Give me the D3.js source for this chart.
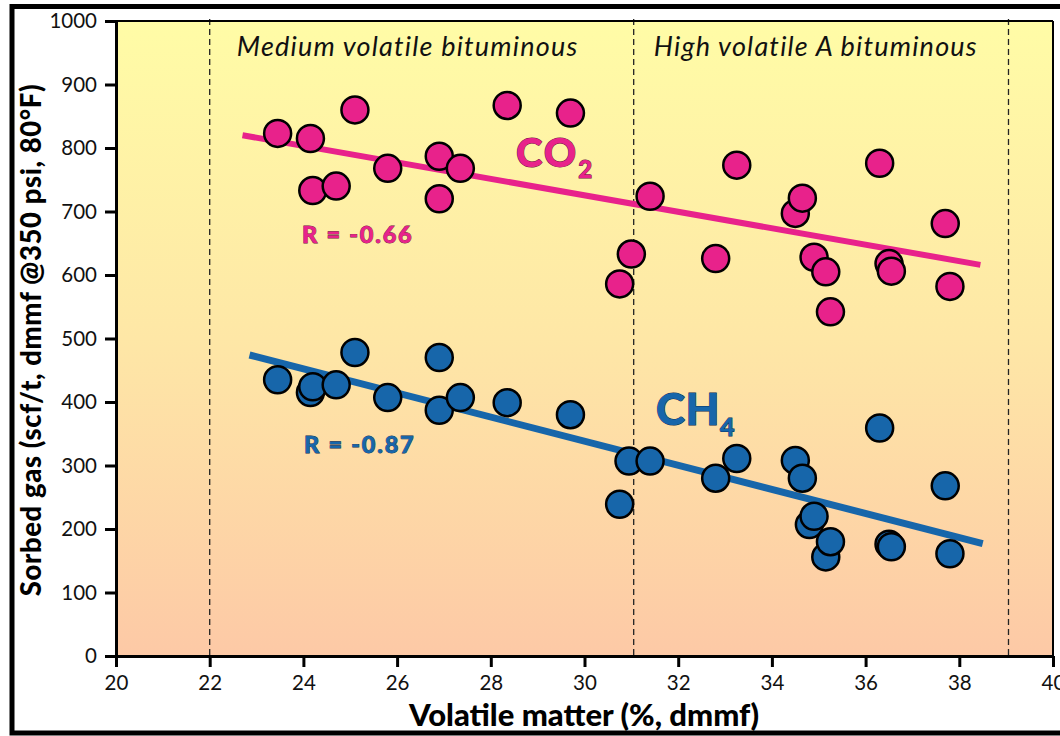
<!DOCTYPE html>
<html>
<head>
<meta charset="utf-8">
<script src="https://cdn.jsdelivr.net/npm/d3@7"></script>
<style>
  html, body { margin: 0; padding: 0; background: #fff; }
  svg { display: block; }
  text { font-family: Lato, "Open Sans", "DejaVu Sans", sans-serif; }
</style>
</head>
<body>
<svg id="chart" width="1060" height="736"></svg>
<script>
// ---------- data ----------
const xTicks = [20, 22, 24, 26, 28, 30, 32, 34, 36, 38, 40];
const yTicks = [0, 100, 200, 300, 400, 500, 600, 700, 800, 900, 1000];

const co2X = [23.45, 24.15, 24.2, 24.7, 25.1, 25.8, 26.9, 26.9, 27.35, 28.35, 29.7, 30.75, 31.0, 31.4, 32.8, 33.25, 34.5, 34.65, 34.9, 35.15, 35.25, 36.3, 36.5, 36.55, 37.7, 37.8];
const co2Y = [823, 815, 733, 740, 860, 768, 787, 720, 768, 867, 855, 586, 633, 724, 626, 773, 697, 721, 628, 605, 542, 776, 618, 606, 681, 582];

const ch4X = [23.45, 24.15, 24.2, 24.7, 25.1, 25.8, 26.9, 26.9, 27.35, 28.35, 29.7, 30.75, 30.95, 31.4, 32.8, 33.25, 34.5, 34.65, 34.8, 34.9, 35.15, 35.25, 36.3, 36.5, 36.55, 37.7, 37.8];
const ch4Y = [435, 415, 424, 427, 478, 407, 470, 387, 407, 399, 380, 239, 307, 307, 280, 311, 308, 280, 207, 220, 156, 180, 359, 176, 172, 268, 161];

const co2TrendX = [22.7, 38.45];
const co2TrendY = [820, 616];
const ch4TrendX = [22.85, 38.5];
const ch4TrendY = [474, 177];

const rankBoundaries = [22, 31.05, 39.05];
const rankLabels = ["Medium volatile bituminous", "High volatile A bituminous"];
const rankLabelX = [22.58, 31.48];

const co2R = "R = -0.66";
const ch4R = "R = -0.87";
const xTitle = "Volatile matter (%, dmmf)";
const yTitle = "Sorbed gas (scf/t, dmmf @350 psi, 80°F)";

// ---------- layout ----------
const svg = d3.select("#chart");
const L = 116, R = 1053, T = 21, B = 656;
const x = d3.scaleLinear().domain([20, 40]).range([L, R]);
const y = d3.scaleLinear().domain([0, 1000]).range([B, T]);

const pink = "#e8228b", blue = "#1766aa";

// outer frame
svg.append("rect").attr("x", 12).attr("y", 6.5).attr("width", 1060).attr("height", 726.5)
  .attr("fill", "none").attr("stroke", "#000").attr("stroke-width", 5);

// background gradient
const defs = svg.append("defs");
const grad = defs.append("linearGradient").attr("id", "bg").attr("x1", 0).attr("x2", 0).attr("y1", 0).attr("y2", 1);
grad.append("stop").attr("offset", "0%").attr("stop-color", "#fffca6");
grad.append("stop").attr("offset", "50%").attr("stop-color", "#fee7a6");
grad.append("stop").attr("offset", "100%").attr("stop-color", "#fdc9a6");
svg.append("rect").attr("x", L).attr("y", T).attr("width", R - L).attr("height", B - T).attr("fill", "url(#bg)");

// rank boundaries
svg.selectAll("line.rank").data(rankBoundaries).join("line")
  .attr("class", "rank")
  .attr("x1", d => x(d)).attr("x2", d => x(d))
  .attr("y1", T - 2).attr("y2", B)
  .attr("stroke", "#222").attr("stroke-width", 1.3).attr("stroke-dasharray", "6,4");

// rank labels
svg.selectAll("text.rank").data(rankLabels).join("text")
  .attr("class", "rank")
  .attr("x", (d, i) => x(rankLabelX[i])).attr("y", 56)
  .attr("font-family", "'Open Sans', Lato, sans-serif")
  .attr("font-size", 27).attr("letter-spacing", 1.2).attr("font-style", "italic").attr("fill", "#111")
  .text(d => d);

// trend lines
const line = d3.line().x(d => x(d[0])).y(d => y(d[1]));
svg.append("path").datum(co2TrendX.map((v, i) => [v, co2TrendY[i]]))
  .attr("d", line).attr("stroke", pink).attr("stroke-width", 6).attr("fill", "none");
svg.append("path").datum(ch4TrendX.map((v, i) => [v, ch4TrendY[i]]))
  .attr("d", line).attr("stroke", blue).attr("stroke-width", 7).attr("fill", "none");

// points
const rr = 13.5;
svg.append("g").selectAll("circle").data(ch4X.map((v, i) => [v, ch4Y[i]])).join("circle")
  .attr("cx", d => x(d[0])).attr("cy", d => y(d[1])).attr("r", rr)
  .attr("fill", blue).attr("stroke", "#000").attr("stroke-width", 2.5);
svg.append("g").selectAll("circle").data(co2X.map((v, i) => [v, co2Y[i]])).join("circle")
  .attr("cx", d => x(d[0])).attr("cy", d => y(d[1])).attr("r", rr)
  .attr("fill", pink).attr("stroke", "#000").attr("stroke-width", 2.5);

// gas labels
function gasLabel(px, py, main, sub, color, outline, size, subSize, ls) {
  const t = svg.append("text").attr("x", px).attr("y", py)
    .attr("font-weight", 900).attr("font-size", size).attr("fill", color)
    .attr("letter-spacing", ls)
    .attr("stroke", outline).attr("stroke-width", 1).attr("paint-order", "stroke");
  t.append("tspan").text(main);
  t.append("tspan").attr("font-size", subSize).attr("dy", subSize * 0.45).text(sub);
}
gasLabel(516, 167, "CO", "2", pink, "#6a1040", 40, 24, 2);
gasLabel(656, 425, "CH", "4", blue, "#0a2a50", 44, 25, 0.5);

svg.append("text").attr("x", 302).attr("y", 242.5).attr("font-weight", 900).attr("font-size", 23.5)
  .attr("letter-spacing", 1.8)
  .attr("fill", pink).attr("stroke", "#6a1040").attr("stroke-width", 0.8).attr("paint-order", "stroke").text(co2R);
svg.append("text").attr("x", 304).attr("y", 452.5).attr("font-weight", 900).attr("font-size", 23.5)
  .attr("letter-spacing", 1.8)
  .attr("fill", blue).attr("stroke", "#0a2a50").attr("stroke-width", 0.8).attr("paint-order", "stroke").text(ch4R);

// plot border top/right
svg.append("line").attr("x1", L).attr("x2", R).attr("y1", T).attr("y2", T).attr("stroke", "#000").attr("stroke-width", 2);
svg.append("line").attr("x1", R).attr("x2", R).attr("y1", T).attr("y2", B).attr("stroke", "#000").attr("stroke-width", 2);

// axes
const xAxis = svg.append("g").attr("transform", `translate(0,${B})`)
  .call(d3.axisBottom(x).tickValues(xTicks).tickSize(11).tickSizeOuter(0).tickPadding(8).tickFormat(d3.format("d")));
const yAxis = svg.append("g").attr("transform", `translate(${L},0)`)
  .call(d3.axisLeft(y).tickValues(yTicks).tickSize(11).tickSizeOuter(0).tickPadding(8).tickFormat(d3.format("d")));
[xAxis, yAxis].forEach(a => {
  a.select(".domain").attr("stroke", "#000").attr("stroke-width", 3);
  a.selectAll(".tick line").attr("stroke", "#000").attr("stroke-width", 3);
  a.selectAll(".tick text").attr("font-family", "Lato, 'Open Sans', sans-serif").attr("font-size", 20.5).attr("fill", "#111");
});

// axis titles
svg.append("text").attr("x", 584).attr("y", 726).attr("text-anchor", "middle")
  .attr("font-weight", 900).attr("font-size", 31).attr("fill", "#000").text(xTitle);
svg.append("text").attr("transform", `translate(41,340) rotate(-90)`).attr("text-anchor", "middle")
  .attr("font-weight", 900).attr("font-size", 27.5).attr("letter-spacing", 0.6).attr("fill", "#000").text(yTitle);
</script>
</body>
</html>
